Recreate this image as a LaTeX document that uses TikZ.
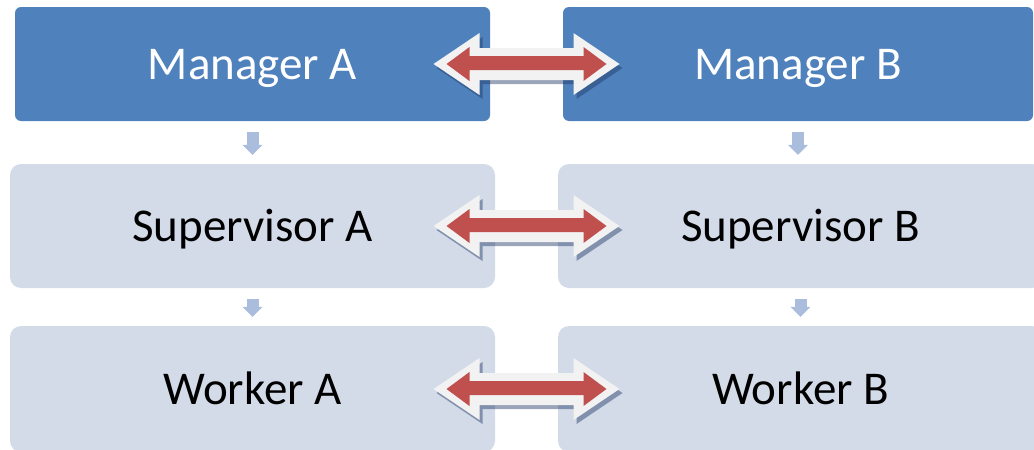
\documentclass[tikz,border=0pt]{standalone}
\usepackage{fontspec}
\setmainfont{Carlito}
\usetikzlibrary{arrows.meta,calc}

\definecolor{mgrblue}{HTML}{4F81BD}
\definecolor{paleblue}{HTML}{D3DAE8}
\definecolor{flowblue}{HTML}{ABBDDC}
\definecolor{linkred}{HTML}{C0504D}
\definecolor{linkrim}{HTML}{F2F2F2}
\definecolor{linkshade}{HTML}{1F3864}

\begin{document}
\begin{tikzpicture}[x=1pt,y=-1pt,
  box/.style={rectangle, inner sep=0pt, text height=30pt, text depth=0pt,
    font=\fontsize{47}{56}\selectfont},
  mgr/.style={box, fill=mgrblue, text=white, rounded corners=6pt,
    minimum width=475pt, minimum height=114pt},
  staff/.style={box, fill=paleblue, text=black, rounded corners=11pt,
    minimum width=485pt, minimum height=124pt},
  flow/.style={draw=flowblue, line width=12pt, shorten <=11pt, shorten >=9pt,
    -{Triangle[width=20pt,length=10pt,line width=0pt]}},
  pics/linkarrow/.style={code={
    % soft drop shadow
    \fill[linkshade, fill opacity=0.45, shift={(3,4)}]
      (-93,0) -- (-47,-31) -- (-47,-16) -- (47,-16) -- (47,-31) -- (93,0)
      -- (47,31) -- (47,16) -- (-47,16) -- (-47,31) -- cycle;
    % light rim
    \fill[linkrim]
      (-93,0) -- (-47,-31) -- (-47,-16) -- (47,-16) -- (47,-31) -- (93,0)
      -- (47,31) -- (47,16) -- (-47,16) -- (-47,31) -- cycle;
    % red core
    \fill[linkred]
      (-80,0) -- (-57,-17) -- (-57,-8) -- (57,-8) -- (57,-17) -- (80,0)
      -- (57,17) -- (57,6) -- (-57,6) -- (-57,17) -- cycle;
  }},
]
\path[use as bounding box, clip] (0,0) rectangle (1034,450);

% hierarchy boxes
\node[mgr] (ma) at (252.5,64) {Manager A};
\node[mgr, minimum width=470pt] (mb) at (798,64) {Manager B};
\node[staff] (sa) at (252.5,226) {Supervisor A};
\node[staff] (sb) at (800.5,226) {Supervisor B};
\node[staff, minimum height=126pt] (wa) at (252.5,389) {Worker A};
\node[staff, minimum height=126pt] (wb) at (800.5,389) {Worker B};

% downward reporting arrows
\draw[flow] (ma.south) -- (sa.north);
\draw[flow] (mb.south) -- (mb.south |- sb.north);
\draw[flow] (sa.south) -- (wa.north);
\draw[flow] (sb.south) -- (wb.north);

% two-way links between peers
\pic at ($(ma.east)!0.5!(mb.west)$) {linkarrow};
\pic at ($(sa.east)!0.5!(sb.west)$) {linkarrow};
\pic at ($(wa.east)!0.5!(wb.west)$) {linkarrow};
\end{tikzpicture}
\end{document}
